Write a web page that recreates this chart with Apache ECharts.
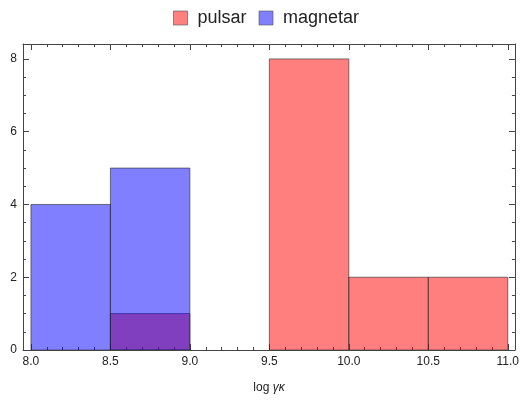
<!DOCTYPE html>
<html><head><meta charset="utf-8">
<script src="https://cdn.jsdelivr.net/npm/echarts@6/dist/echarts.min.js"></script>
<style>html,body{margin:0;padding:0;background:#fff}#c{width:522px;height:401px}</style>
</head><body><div id="c"></div>
<script>
// bins: [start, end, count]
const pulsarBins = [[8.5, 9.0, 1], [9.5, 10.0, 8], [10.0, 10.5, 2], [10.5, 11.0, 2]];
const magnetarBins = [[8.0, 8.5, 4], [8.5, 9.0, 5]];
const xMajorTicks = [8.0, 8.5, 9.0, 9.5, 10.0, 10.5, 11.0];
const xMinorTicks = [8.1,8.2,8.3,8.4,8.6,8.7,8.8,8.9,9.1,9.2,9.3,9.4,9.6,9.7,9.8,9.9,10.1,10.2,10.3,10.4,10.6,10.7,10.8,10.9];
const yMajorTicks = [0, 2, 4, 6, 8];
const yMinorTicks = [0.5,1,1.5,2.5,3,3.5,4.5,5,5.5,6.5,7,7.5];

const FONT = 'Liberation Sans, Arial, sans-serif';
const axisCol = '#444';
const X_MIN = 7.95, X_MAX = 11.045, Y_MIN = 0, Y_MAX = 8.41;

function xAx(pos, ticks, len, labels, line) {
  return {
    type: 'value', position: pos, min: X_MIN, max: X_MAX,
    axisLine: {show: line, onZero: false, lineStyle: {color: axisCol, width: 1}},
    axisTick: {show: true, inside: true, length: len, customValues: ticks, lineStyle: {color: axisCol}},
    axisLabel: labels ? {show: true, customValues: ticks, color: '#222', fontSize: 12, fontFamily: FONT, margin: 6,
      formatter: v => v.toFixed(1)} : {show: false},
    splitLine: {show: false}
  };
}
function yAx(pos, ticks, len, labels, line) {
  return {
    type: 'value', position: pos, min: Y_MIN, max: Y_MAX,
    axisLine: {show: line, onZero: false, lineStyle: {color: axisCol, width: 1}},
    axisTick: {show: true, inside: true, length: len, customValues: ticks, lineStyle: {color: axisCol}},
    axisLabel: labels ? {show: true, customValues: ticks, color: '#222', fontSize: 12, fontFamily: FONT, margin: 6} : {show: false},
    splitLine: {show: false}
  };
}

function rectRender(fill) {
  return function (params, api) {
    const p0 = api.coord([api.value(0), api.value(2)]);
    const p1 = api.coord([api.value(1), 0]);
    return {
      type: 'rect',
      shape: {x: p0[0], y: p0[1], width: p1[0] - p0[0], height: p1[1] - p0[1]},
      style: {fill: fill, stroke: 'rgba(40,40,40,0.6)', lineWidth: 1}
    };
  };
}

const chart = echarts.init(document.getElementById('c'), null, {renderer: 'canvas'});
const xBottom = xAx('bottom', xMajorTicks, 6, true, true);
xBottom.name = '{n|log }{i|γκ}';
xBottom.nameLocation = 'middle';
xBottom.nameGap = 32;
xBottom.nameTextStyle = {rich: {n: {fontSize: 12, fontFamily: FONT, color: '#222'}, i: {fontSize: 12, fontFamily: FONT, fontStyle: 'italic', color: '#222'}}};

chart.setOption({
  animation: false,
  backgroundColor: '#fff',
  legend: {
    top: 4, left: 168, itemWidth: 14, itemHeight: 14, itemGap: 12,
    icon: 'rect',
    textStyle: {fontSize: 18, fontFamily: FONT, color: '#222', padding: [0, 0, 0, 5]},
    data: [
      {name: 'pulsar', itemStyle: {color: 'rgb(255,128,128)', borderColor: 'rgba(80,80,80,0.6)', borderWidth: 1}},
      {name: 'magnetar', itemStyle: {color: 'rgb(128,128,255)', borderColor: 'rgba(80,80,80,0.6)', borderWidth: 1}}
    ]
  },
  grid: {left: 23, right: 4, top: 44, bottom: 51, containLabel: false},
  xAxis: [
    xBottom,
    xAx('bottom', xMinorTicks, 3, false, false),
    xAx('top', xMajorTicks, 6, false, true),
    xAx('top', xMinorTicks, 3, false, false)
  ],
  yAxis: [
    yAx('left', yMajorTicks, 6, true, true),
    yAx('left', yMinorTicks, 3, false, false),
    yAx('right', yMajorTicks, 6, false, true),
    yAx('right', yMinorTicks, 3, false, false)
  ],
  series: [
    {name: 'pulsar', type: 'custom', xAxisIndex: 0, yAxisIndex: 0, data: pulsarBins,
      itemStyle: {color: 'rgb(255,128,128)'}, renderItem: rectRender('rgba(255,0,0,0.5)'), clip: true},
    {name: 'magnetar', type: 'custom', xAxisIndex: 0, yAxisIndex: 0, data: magnetarBins,
      itemStyle: {color: 'rgb(128,128,255)'}, renderItem: rectRender('rgba(0,0,255,0.5)'), clip: true}
  ]
});
</script></body></html>
